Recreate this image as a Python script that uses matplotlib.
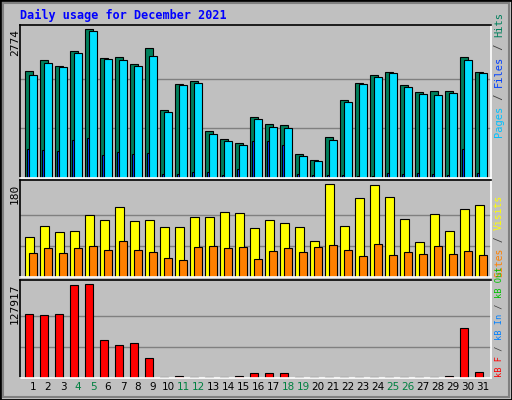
import matplotlib
matplotlib.use("Agg")
import matplotlib.pyplot as plt
from matplotlib.patches import Rectangle

days = list(range(1, 32))
weekend_days = [4, 5, 11, 12, 18, 19, 25, 26]

hits = [1989, 2209, 2096, 2379, 2774, 2247, 2266, 2134, 2435, 1268, 1757, 1814, 872, 722, 646, 1136,
        1004, 985, 439, 345, 759, 1456, 1776, 1927, 1983, 1738, 1607, 1625, 1625, 2266, 1983]
files = [1927, 2153, 2077, 2341, 2736, 2228, 2209, 2096, 2284, 1230, 1738, 1776, 816, 684, 609, 1098,
         948, 929, 402, 308, 703, 1418, 1757, 1889, 1964, 1701, 1569, 1550, 1588, 2209, 1964]
pages = [533, 515, 496, 703, 741, 420, 477, 439, 458, 82, 82, 119, 119, 63, 176, 684,
         684, 609, 82, 63, 63, 63, 44, 44, 100, 82, 100, 82, 63, 533, 100]
visits = [78, 98, 86, 88, 119, 110, 135, 108, 110, 96, 96, 115, 115, 125, 123, 94,
          110, 104, 96, 70, 180, 98, 153, 178, 155, 112, 68, 121, 88, 131, 139]
sites = [47, 55, 47, 55, 59, 53, 70, 53, 49, 37, 33, 57, 59, 55, 57, 35,
         51, 55, 49, 57, 61, 53, 41, 63, 43, 49, 45, 59, 45, 51, 43]
kbytes = [87296, 85897, 87296, 126510, 127917, 52284, 45281, 48082, 27075, 1300, 3268, 1300, 1300, 1300, 3268, 7469,
          7469, 7469, 1300, 1300, 1300, 1300, 1300, 1300, 1300, 1300, 1300, 1300, 3268, 67690, 8870]

W, H = 512, 400
BG = "#C0C0C0"
MONO = "DejaVu Sans Mono"

fig = plt.figure(figsize=(W / 100, H / 100), dpi=100, facecolor=BG)
fig.patches.append(Rectangle((0, 0), 1, 1, transform=fig.transFigure, fill=False,
                             edgecolor="black", linewidth=2))
fig.patches.append(Rectangle((3 / W, 3 / H), 1 - 6 / W, 1 - 6 / H, transform=fig.transFigure,
                             fill=False, edgecolor="#808080", linewidth=1.5))
renderer = fig.canvas.get_renderer()


def make_axes(top, bottom):
    ax = fig.add_axes([20 / W, 1 - bottom / H, (491 - 20) / W, (bottom - top) / H])
    ax.set_facecolor(BG)
    ax.set_xlim(0.13, 31.53)
    for side in ("left", "top"):
        ax.spines[side].set_color("black")
    for side in ("right", "bottom"):
        ax.spines[side].set_color("white")
    for s in ax.spines.values():
        s.set_linewidth(1.2)
    ax.set_xticks([])
    ax.set_yticks([])
    return ax


def grid(ax, vmax):
    for f in (1 / 3, 2 / 3):
        ax.axhline(vmax * f, color="#808080", linewidth=1, zorder=0)


def bars(ax, offset, width, values, color):
    ax.bar([d + offset for d in days], values, width=width, color=color,
           edgecolor="black", linewidth=0.8, zorder=2)


def side_label(x_px, y_bottom_px, parts, size=6.5):
    # stack rotated pieces bottom-to-top using their measured height
    y = y_bottom_px
    for text, color in parts:
        t = fig.text(x_px / W, 1 - y / H, text, rotation=90, ha="center", va="bottom",
                     color=color, family=MONO, fontsize=size)
        y -= t.get_window_extent(renderer).height


# top panel: hits / files / pages
ax1 = make_axes(25, 178)
m1 = 2774
ax1.set_ylim(0, m1 * 455 / 442)
grid(ax1, m1)
bars(ax1, -0.27, 0.49, hits, "#00805C")
bars(ax1, -0.32, 0.2, pages, "#0040FF")
bars(ax1, 0.0, 0.49, files, "#00E0FF")
fig.text(15 / W, 1 - 29 / H, "2774", rotation=90, ha="center", va="top", family=MONO, fontsize=8)
side_label(499, 137, [("Pages", "#00C0FF"), (" / ", "#404040"), ("Files", "#0040FF"),
                      (" / ", "#404040"), ("Hits", "#00805C")], size=7.5)

# middle panel: visits / sites
ax2 = make_axes(180, 277)
m2 = 180
ax2.set_ylim(0, m2 * 287 / 276)
grid(ax2, m2)
bars(ax2, -0.23, 0.56, visits, "#FFFF00")
bars(ax2, 0.0, 0.49, sites, "#FF8000")
fig.text(15 / W, 1 - 184 / H, "180", rotation=90, ha="center", va="top", family=MONO, fontsize=8)
side_label(499, 277, [("Sites", "#FF8000"), (" / ", "#404040"), ("Visits", "#FFFF00")], size=7)

# bottom panel: kB F / kB In / kB Out
ax3 = make_axes(280, 378)
m3 = 127917
ax3.set_ylim(0, m3 * 287 / 274)
grid(ax3, m3)
bars(ax3, -0.27, 0.49, kbytes, "#FF0000")
fig.text(15 / W, 1 - 283 / H, "127917", rotation=90, ha="center", va="top", family=MONO, fontsize=8)
side_label(499, 377, [("kB F", "#FF0000"), (" / ", "#404040"), ("kB In", "#0080FF"),
                      (" / ", "#404040"), ("kB Out", "#00C000")], size=6.2)

for d in days:
    col = "#008040" if d in weekend_days else "black"
    ax3.text(d, -0.09, str(d), transform=ax3.get_xaxis_transform(), ha="center", va="center",
             color=col, family="DejaVu Sans", fontsize=7.5)

fig.text(20 / W, 1 - 15 / H, "Daily usage for December 2021", color="#0000FF", family=MONO,
         fontweight="bold", fontsize=8.5, va="center", ha="left")

fig.savefig("out.png", dpi=100, facecolor=BG)
